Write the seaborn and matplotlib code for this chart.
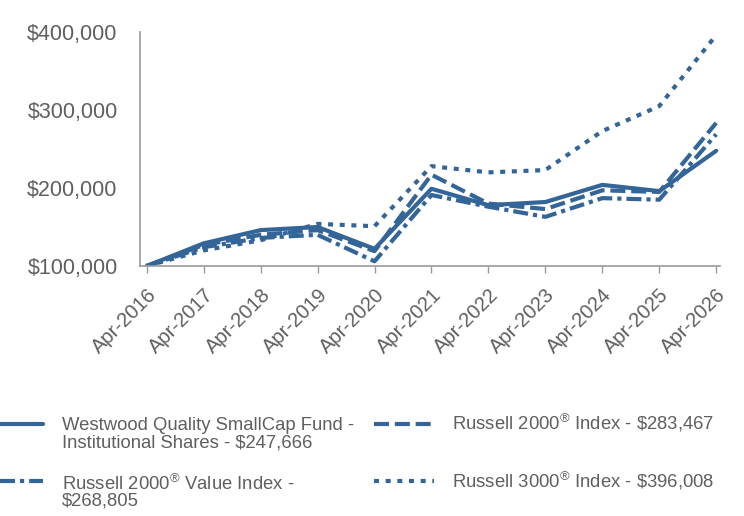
import matplotlib
matplotlib.use("Agg")
import matplotlib.pyplot as plt
import matplotlib.ticker as mticker
from matplotlib.lines import Line2D
import seaborn as sns
import pandas as pd

years = ["Apr-2016", "Apr-2017", "Apr-2018", "Apr-2019", "Apr-2020", "Apr-2021",
         "Apr-2022", "Apr-2023", "Apr-2024", "Apr-2025", "Apr-2026"]

fund = [100000, 129000, 146000, 150000, 122000, 199000, 178000, 182000, 204000, 196000, 247666]
r2000 = [100000, 127000, 140000, 146000, 119000, 217000, 180000, 173000, 197000, 195000, 283467]
r2000v = [100000, 124000, 136000, 140000, 106000, 191000, 176000, 163000, 187000, 185000, 268805]
r3000 = [100000, 120000, 133000, 154000, 151000, 228000, 220000, 223000, 273000, 305000, 396008]

labels = [
    "Westwood Quality SmallCap Fund -\nInstitutional Shares - \\$247,666",
    "Russell 2000$^{®}$ Index - \\$283,467",
    "Russell 2000$^{®}$ Value Index -\n\\$268,805",
    "Russell 3000$^{®}$ Index - \\$396,008",
]
names = ["fund", "r2000", "r2000v", "r3000"]

sns.set_style("white")
plt.rcParams["font.family"] = ["Liberation Sans", "DejaVu Sans"]
plt.rcParams["mathtext.fontset"] = "custom"
plt.rcParams["mathtext.rm"] = "Liberation Sans"
plt.rcParams["mathtext.it"] = "Liberation Sans"

frames = []
for n, vals in zip(names, [fund, r2000, r2000v, r3000]):
    frames.append(pd.DataFrame({"x": range(len(years)), "value": vals, "series": n}))
df = pd.concat(frames, ignore_index=True)

color = "#336598"
gray = "#5f5f5f"
dash_styles = ["", (3.6, 1.4), (3.6, 1.2, 1.0, 1.2), (1.2, 1.6)]

fig = plt.figure(figsize=(7.44, 5.16), dpi=100)
ax = fig.add_axes([0.188, 0.4845, 0.78, 0.4535])

sns.lineplot(
    data=df, x="x", y="value", hue="series", style="series",
    palette=[color] * 4, dashes=dash_styles,
    linewidth=3, ax=ax, legend=False,
)

ax.set_xlim(-0.12, 10.07)
ax.set_ylim(100000, 400000)
ax.set_yticks([100000, 200000, 300000, 400000])
ax.yaxis.set_major_formatter(mticker.FuncFormatter(lambda v, p: f"${v:,.0f}"))
ax.set_xticks(range(len(years)))
ax.set_xticklabels(years, rotation=45, ha="right", rotation_mode="anchor")
ax.tick_params(axis="y", labelsize=15.5, colors=gray, length=0, pad=16)
ax.tick_params(axis="x", labelsize=14.5, colors=gray, length=5, width=1, color="#999999", direction="out", pad=9)
ax.xaxis.set_ticks_position("bottom")
ax.set_xlabel("")
ax.set_ylabel("")
for s in ["top", "right"]:
    ax.spines[s].set_visible(False)
for s in ["left", "bottom"]:
    ax.spines[s].set_color("#999999")
    ax.spines[s].set_linewidth(1.2)

# legend drawn by hand: (handle x0, x1, handle y, text x, last-line baseline y, line spacing) in pixels
W, H = 744, 516
slots = [(0, 43, 424, 62, 448, 1.08), (374, 434, 424, 452, 430, 1.0),
         (0, 43, 481, 62, 506, 0.92), (374, 434, 481, 452, 487, 1.0)]
for (x0, x1, hy, tx, ty, ls), lab, ds in zip(slots, labels, dash_styles):
    ln = Line2D([x0 / W, x1 / W], [1 - hy / H, 1 - hy / H], transform=fig.transFigure,
                color=color, linewidth=3)
    if ds:
        ln.set_dashes(ds)
    fig.add_artist(ln)
    fig.text(tx / W, 1 - ty / H, lab, fontsize=13.3, color=gray, ha="left", va="baseline",
             linespacing=ls)

fig.savefig("out.png", dpi=100)
